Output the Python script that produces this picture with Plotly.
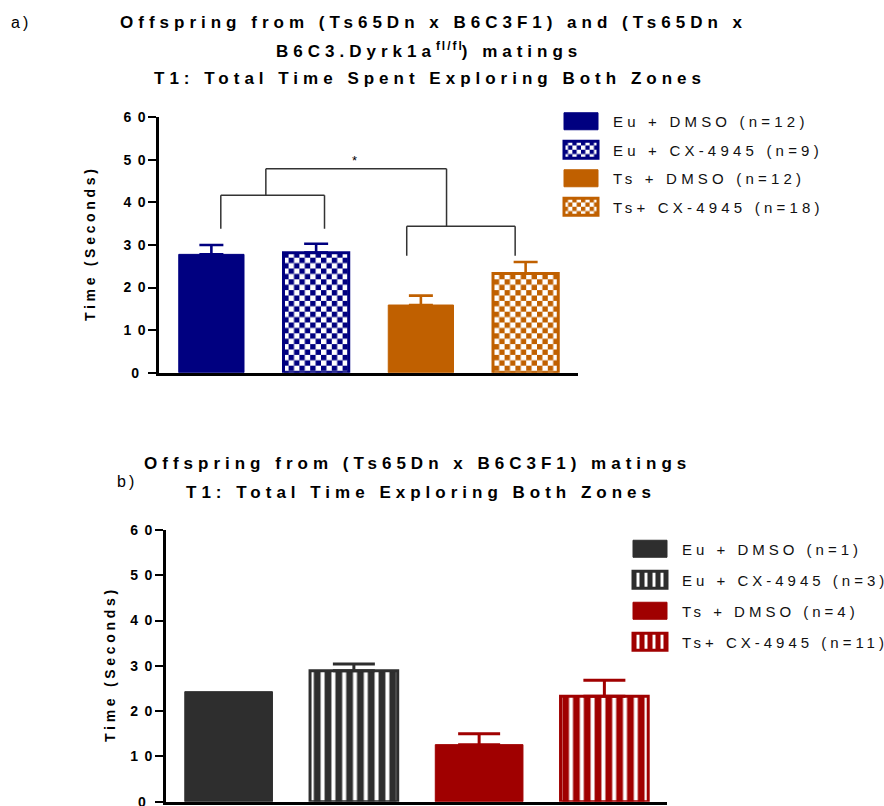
import plotly.graph_objects as go

# ---------------- data ----------------
groups_a = ["Eu + DMSO (n=12)", "Eu + CX-4945 (n=9)", "Ts + DMSO (n=12)", "Ts+ CX-4945 (n=18)"]
means_a = [27.8, 28.2, 15.9, 23.3]
sem_a = [2.2, 2.1, 2.2, 2.7]

groups_b = ["Eu + DMSO (n=1)", "Eu + CX-4945 (n=3)", "Ts + DMSO (n=4)", "Ts+ CX-4945 (n=11)"]
means_b = [24.3, 28.9, 12.6, 23.3]
sem_b = [None, 1.5, 2.4, 3.5]

y_ticks = [0, 10, 20, 30, 40, 50, 60]
y_tick_labels = ["0", "10", "20", "30", "40", "50", "60"]

title_a = ["Offspring from (Ts65Dn x B6C3F1) and (Ts65Dn x",
           ("B6C3.Dyrk1a", "fl/fl", ") matings"),
           "T1: Total Time Spent Exploring Both Zones"]
title_b = ["Offspring from (Ts65Dn x B6C3F1) matings",
           "T1: Total Time Exploring Both Zones"]
y_title = "Time (Seconds)"
sig_label = "*"

# ---------------- style ----------------
W, H = 884, 806
FONT = "Liberation Sans, Arial, sans-serif"
colors_a = ["#000080", "#000080", "#C06000", "#C06000"]
patterned_a = [False, True, False, True]
colors_b = ["#2E2E2E", "#2E2E2E", "#A00000", "#A00000"]
patterned_b = [False, True, False, True]


def ls(text, px, keep_last=True):
    """letter-spaced text (spacing not applied after the final glyph)"""
    if not text:
        return ""
    if keep_last and len(text) > 1:
        return f"<span style='letter-spacing:{px}px'>{text[:-1]}</span>{text[-1]}"
    return f"<span style='letter-spacing:{px}px'>{text}</span>"


def fx(px):
    return px / W


def fy(px):
    return 1 - px / H


fig = go.Figure()

for i, g in enumerate(groups_a):
    c = colors_a[i]
    pat = dict(shape="+", fgcolor=c, bgcolor="white", size=10.8, solidity=0.5,
               fillmode="replace") if patterned_a[i] else dict(shape="")
    fig.add_trace(go.Bar(
        x=[g], y=[means_a[i]], width=0.623, name=ls(g, 4.2), legendgroup=f"a{i}",
        marker=dict(color=c, line=dict(color=c, width=3 if patterned_a[i] else 1), pattern=pat),
        error_y=dict(type="data", array=[sem_a[i]], arrayminus=[0], symmetric=False,
                     color=c, thickness=2.6, width=12),
        xaxis="x", yaxis="y", legend="legend", hoverinfo="skip",
    ))

for i, g in enumerate(groups_b):
    c = colors_b[i]
    pat = dict(shape="|", fgcolor="white", bgcolor=c, size=10.8, solidity=0.37,
               fillmode="replace") if patterned_b[i] else dict(shape="")
    err = (dict(type="data", array=[sem_b[i]], arrayminus=[0], symmetric=False,
                color=c, thickness=3, width=21)
           if sem_b[i] is not None else dict(visible=False))
    fig.add_trace(go.Bar(
        x=[g], y=[means_b[i]], width=0.70, name=ls(g, 4.0), legendgroup=f"b{i}",
        marker=dict(color=c, line=dict(color=c, width=3 if patterned_b[i] else 1), pattern=pat),
        error_y=err,
        xaxis="x2", yaxis="y2", legend="legend2", hoverinfo="skip",
    ))

axis_common = dict(showgrid=False, zeroline=False, showline=True, linecolor="black")
tick_text = [ls(t, 6.3) for t in y_tick_labels]

fig.update_layout(
    width=W, height=H, margin=dict(l=0, r=0, t=0, b=0, autoexpand=False),
    paper_bgcolor="white", plot_bgcolor="white",
    barmode="overlay", showlegend=True,
    font=dict(family=FONT, color="black"),
    xaxis=dict(domain=[fx(159), fx(578)], range=[-0.5, 3.5], type="category",
               showticklabels=False, ticks="", linewidth=2.5, anchor="y", **axis_common),
    yaxis=dict(domain=[fy(372.7), fy(117.3)], range=[0, 60], tickvals=y_ticks, ticktext=tick_text,
               ticks="outside", ticklen=8, tickwidth=2, tickcolor="black", linewidth=2.5,
               ticklabeloverflow="allow",
               tickfont=dict(size=14, weight="bold", color="black"), anchor="x",
               title=dict(text=ls(y_title, 3.7), font=dict(size=14, weight="bold"), standoff=25),
               **axis_common),
    xaxis2=dict(domain=[fx(166), fx(667)], range=[-0.5, 3.5], type="category",
                showticklabels=False, ticks="", linewidth=3, anchor="y2", **axis_common),
    yaxis2=dict(domain=[fy(801.7), fy(530)], range=[0, 60], tickvals=y_ticks, ticktext=tick_text,
                ticks="outside", ticklen=8, tickwidth=2, tickcolor="black", linewidth=3,
                ticklabeloverflow="allow",
                tickfont=dict(size=14, weight="bold", color="black"), anchor="x2",
                title=dict(text=ls(y_title, 3.7), font=dict(size=14, weight="bold"), standoff=12),
                **axis_common),
    legend=dict(x=fx(549), y=fy(105), xanchor="left", yanchor="top", itemwidth=54,
                font=dict(size=15, color="#111"), bgcolor="rgba(0,0,0,0)",
                itemclick=False, itemdoubleclick=False, tracegroupgap=6),
    legend2=dict(x=fx(618), y=fy(532.5), xanchor="left", yanchor="top", itemwidth=54,
                 font=dict(size=15, color="#111"), bgcolor="rgba(0,0,0,0)",
                 itemclick=False, itemdoubleclick=False, tracegroupgap=8.5),
)

# titles
ann = []
ann.append(dict(text=ls("a)", 3), x=fx(9), y=fy(22), xanchor="left", yanchor="middle",
                font=dict(size=16)))
ann.append(dict(text=ls(title_a[0], 5), x=fx(431), y=fy(22), xanchor="center", yanchor="middle",
                font=dict(size=17, weight="bold")))
l2 = title_a[1]
ann.append(dict(text=ls(l2[0], 5, keep_last=False) + "<sup>" + ls(l2[1], 2) + "</sup>" + ls(l2[2], 5),
                x=fx(426), y=fy(50), xanchor="center", yanchor="middle",
                font=dict(size=17, weight="bold")))
ann.append(dict(text=ls(title_a[2], 5), x=fx(427), y=fy(79), xanchor="center", yanchor="middle",
                font=dict(size=17, weight="bold")))
ann.append(dict(text=ls(title_b[0], 5), x=fx(415), y=fy(463), xanchor="center", yanchor="middle",
                font=dict(size=17, weight="bold")))
ann.append(dict(text=ls(title_b[1], 5), x=fx(418), y=fy(492), xanchor="center", yanchor="middle",
                font=dict(size=17, weight="bold")))
ann.append(dict(text=ls("b)", 3), x=fx(115), y=fy(481), xanchor="left", yanchor="middle",
                font=dict(size=16)))
for a in ann:
    a.update(xref="paper", yref="paper", showarrow=False)

# significance brackets (top panel) in category-index units
brk = "#333333"
segs = [
    (0.09, 33.8, 0.09, 41.7), (0.09, 41.7, 1.08, 41.7), (1.08, 41.7, 1.08, 33.8),
    (1.865, 27.5, 1.865, 34.4), (1.865, 34.4, 2.90, 34.4), (2.90, 34.4, 2.90, 27.5),
    (0.52, 41.7, 0.52, 47.9), (0.52, 47.9, 2.245, 47.9), (2.245, 47.9, 2.245, 34.4),
]
shapes = [dict(type="line", xref="x", yref="y", x0=a, y0=b, x1=c, y1=d,
               line=dict(color=brk, width=1.5)) for a, b, c, d in segs]
ann.append(dict(text=sig_label, x=1.37, y=47.6, xref="x", yref="y", showarrow=False,
                yanchor="bottom", font=dict(size=13, color="black")))

fig.update_layout(annotations=ann, shapes=shapes)

post = """
document.body.style.margin = '0';
document.body.style.padding = '0';
var gd = document.getElementById('{plot_id}');
function fixup(){
  var ns = 'http://www.w3.org/2000/svg';
  document.querySelectorAll('pattern').forEach(function(p){
    try {
      if(p.getAttribute('data-ck')) return;
      var path = p.querySelector('path');
      if(!path) return;
      var fg = path.getAttribute('stroke') || '';
      if(fg.indexOf('255, 255, 255') >= 0 || fg.toLowerCase().indexOf('fff') >= 0) return;
      var rect = p.querySelector('rect');
      var bg = rect ? rect.getAttribute('fill') : 'white';
      var s = 5.4;
      p.setAttribute('width', 2*s); p.setAttribute('height', 2*s);
      while(p.firstChild) p.removeChild(p.firstChild);
      var r = function(x,y,w,h,c){var e=document.createElementNS(ns,'rect');
        e.setAttribute('x',x);e.setAttribute('y',y);e.setAttribute('width',w);
        e.setAttribute('height',h);e.setAttribute('fill',c);p.appendChild(e);};
      r(0,0,2*s,2*s,bg); r(0,0,s,s,fg); r(s,s,s,s,fg);
      p.setAttribute('data-ck','1');
    } catch(e) {}
  });
  document.querySelectorAll('g.legendpoints path').forEach(function(p){
    p.setAttribute('d','M17,8.5H-17V-8.5H17Z');
  });
}
try { fixup(); } catch(e) {}
if (gd && gd.on) { gd.on('plotly_afterplot', function(){ try { fixup(); } catch(e) {} }); }
"""

fig.write_html("out.html", post_script=post, config={"displayModeBar": False})
